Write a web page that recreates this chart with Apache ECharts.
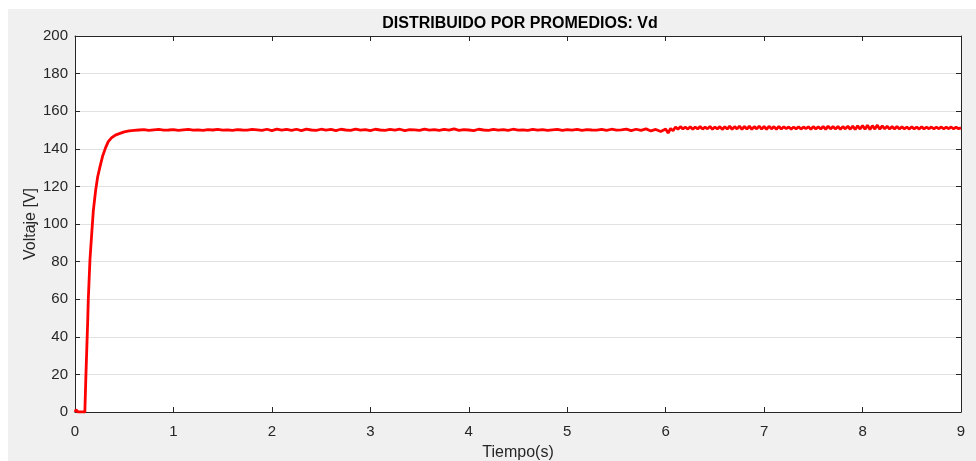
<!DOCTYPE html>
<html>
<head>
<meta charset="utf-8">
<script src="https://cdn.jsdelivr.net/npm/echarts@6/dist/echarts.min.js"></script>
<style>
html,body{margin:0;padding:0;background:#ffffff;width:976px;height:461px;overflow:hidden;}
#chart{position:absolute;left:8px;top:9px;width:968px;height:452px;background:#f0f0f0;}
</style>
</head>
<body>
<div id="chart"></div>
<script>
// ---- Data ----
const titleText = 'DISTRIBUIDO POR PROMEDIOS: Vd';
const xAxisName = 'Tiempo(s)';
const yAxisName = 'Voltaje [V]';
const xTicks = [0, 1, 2, 3, 4, 5, 6, 7, 8, 9];
const yTicks = [0, 20, 40, 60, 80, 100, 120, 140, 160, 180, 200];

// start-up transient (time s, voltage V)
const riseTime = [0, 0.01, 0.02, 0.03, 0.05, 0.10, 0.11, 0.13, 0.135, 0.152, 0.17, 0.186, 0.21, 0.23, 0.254, 0.28, 0.31, 0.338, 0.37, 0.41, 0.457, 0.5, 0.55, 0.6];
const riseVolt = [0, 1.2, 1.0, 0, 0, 0, 18, 50, 60, 81, 95, 107, 118, 125, 130.5, 136, 140.5, 143.8, 145.8, 147.3, 148.2, 149, 149.5, 149.8];

// steady state, samples every 0.05 s from 0.65 s to 6.0 s
const steadyStart = 0.65, steadyStep = 0.05;
const steadyVolt = [
  150.0,150.2,149.8,150.1,150.3,149.9,150.0,150.2,149.8,150.1,
  150.3,149.9,150.1,149.8,150.2,150.0,150.3,149.9,150.1,149.8,
  150.2,150.0,149.9,150.3,150.1,149.8,150.4,149.7,150.5,149.9,
  150.3,149.8,150.4,149.7,150.5,150.0,149.8,150.4,149.9,150.3,
  149.7,150.4,150.0,149.8,150.5,149.9,150.2,149.7,150.4,150.0,
  149.8,150.3,149.9,150.4,149.7,150.2,150.1,149.8,150.5,149.9,
  150.2,149.8,150.3,149.9,150.6,149.8,150.2,150.0,149.7,150.4,
  150.0,149.8,150.3,149.9,150.2,149.8,150.4,149.9,150.1,149.8,
  150.3,149.9,150.2,149.8,150.1,150.3,149.8,150.2,149.9,150.3,
  149.8,150.2,150.0,149.9,150.3,149.8,150.4,149.9,150.1,150.5,
  149.7,150.4,149.8,150.6,149.5,150.3,149.2,150.5
];

// after the change at ~6 s, samples every 0.025 s from 6.025 s to 9.0 s
const lateStart = 6.025, lateStep = 0.025;
const lateVolt = [
  148.4,150.8,149.6,151.6,150.4,151.8,150.6,151.5,150.5,151.7,
  150.4,151.6,150.6,151.8,150.5,151.5,150.7,151.9,150.4,151.6,
  150.6,151.8,150.3,151.7,150.5,152.0,150.4,151.8,150.6,152.1,
  150.3,151.9,150.5,152.0,150.4,151.8,150.6,152.1,150.5,151.9,
  150.3,152.0,150.6,151.8,150.4,151.9,150.5,151.7,150.7,151.6,
  150.5,151.6,150.6,151.7,150.5,151.6,150.7,151.7,150.4,151.8,
  150.6,151.7,150.5,151.9,150.4,152.0,150.6,151.8,150.5,151.9,
  150.4,151.8,150.6,152.0,150.4,152.1,150.3,152.2,150.5,152.4,
  150.4,152.5,150.3,152.3,150.5,152.6,150.4,152.2,150.6,152.0,
  150.5,151.8,150.6,151.8,150.5,151.7,150.6,151.6,150.5,151.7,
  150.6,151.6,150.5,151.7,150.6,151.5,150.7,151.6,150.6,151.5,
  150.7,151.6,150.6,151.5,150.7,151.6,150.6,151.5,150.7,151.1
];

// ---- Build series points ----
const points = [];
riseTime.forEach((t, i) => points.push([t, riseVolt[i]]));
steadyVolt.forEach((v, i) => points.push([+(steadyStart + i * steadyStep).toFixed(3), v]));
lateVolt.forEach((v, i) => points.push([+(lateStart + i * lateStep).toFixed(3), v]));

const axisColor = '#262626';
const fontFam = '"Liberation Sans", Arial, Helvetica, sans-serif';

const chart = echarts.init(document.getElementById('chart'), null, {renderer: 'canvas'});
chart.setOption({
  animation: false,
  backgroundColor: '#f0f0f0',
  title: {
    text: titleText,
    left: 507, top: 2, textAlign: 'center',
    textStyle: {fontFamily: fontFam, fontSize: 16, fontWeight: 'bold', color: '#000'}
  },
  grid: {left: 67, right: 15, top: 27, bottom: 49, show: true, backgroundColor: '#ffffff', borderWidth: 0,
    containLabel: false, outerBoundsMode: 'none'},
  xAxis: [{
    type: 'value', min: 0, max: 9, interval: 1,
    name: xAxisName, nameLocation: 'middle', nameGap: 33, nameMoveOverlap: false,
    nameTextStyle: {fontFamily: fontFam, fontSize: 16, color: axisColor},
    axisLine: {show: true, onZero: false, lineStyle: {color: axisColor, width: 1}},
    axisTick: {show: true, inside: true, length: 5, lineStyle: {color: axisColor}},
    axisLabel: {fontFamily: fontFam, fontSize: 15, color: axisColor, margin: 12,
      formatter: v => xTicks.includes(v) ? String(v) : ''},
    splitLine: {show: false}
  }, {
    type: 'value', min: 0, max: 9, interval: 1, position: 'top',
    axisLine: {show: true, onZero: false, lineStyle: {color: axisColor, width: 1}},
    axisTick: {show: true, inside: true, length: 5, lineStyle: {color: axisColor}},
    axisLabel: {show: false}, splitLine: {show: false}
  }],
  yAxis: [{
    type: 'value', min: 0, max: 200, interval: 20,
    name: yAxisName, nameLocation: 'middle', nameGap: 36, nameRotate: 90, nameMoveOverlap: false,
    nameTextStyle: {fontFamily: fontFam, fontSize: 16, color: axisColor},
    axisLine: {show: true, onZero: false, lineStyle: {color: axisColor, width: 1}},
    axisTick: {show: true, inside: true, length: 5, lineStyle: {color: axisColor}},
    axisLabel: {fontFamily: fontFam, fontSize: 15, color: axisColor, margin: 7,
      formatter: v => yTicks.includes(v) ? String(v) : ''},
    splitLine: {show: true, lineStyle: {color: '#e1e1e1', width: 1}}
  }, {
    type: 'value', min: 0, max: 200, interval: 20, position: 'right',
    axisLine: {show: true, onZero: false, lineStyle: {color: axisColor, width: 1}},
    axisTick: {show: true, inside: true, length: 5, lineStyle: {color: axisColor}},
    axisLabel: {show: false}, splitLine: {show: false}
  }],
  series: [{
    type: 'line', xAxisIndex: 0, yAxisIndex: 0,
    data: points, showSymbol: false, symbol: 'none',
    lineStyle: {color: '#ff0000', width: 2.8},
    clip: true
  }]
});
</script>
</body>
</html>
